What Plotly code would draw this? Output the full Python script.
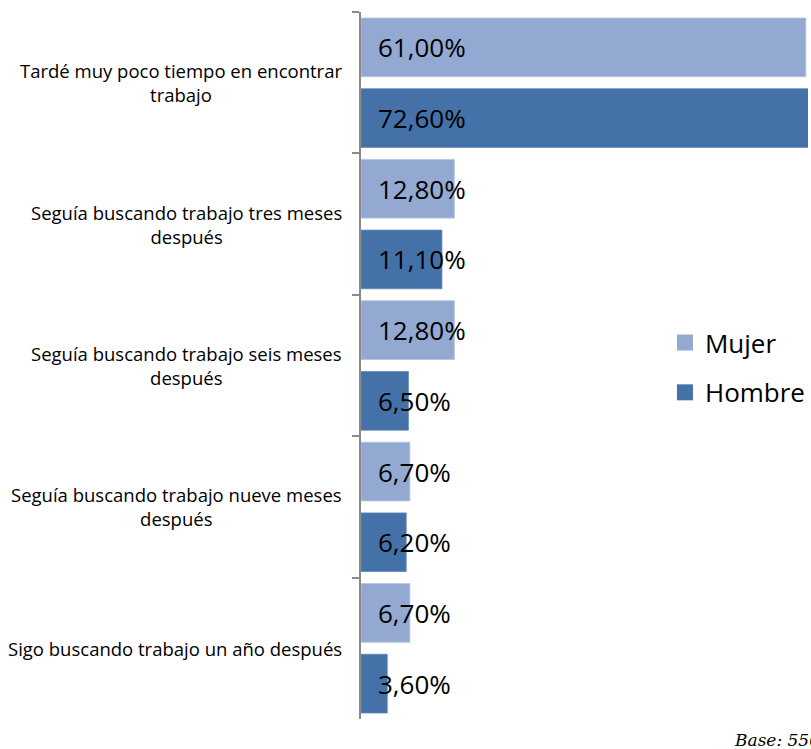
import plotly.graph_objects as go

categories = [
    "Tardé muy poco tiempo en encontrar<br>trabajo",
    "Seguía buscando trabajo tres meses<br>después",
    "Seguía buscando trabajo seis meses<br>después",
    "Seguía buscando trabajo nueve meses<br>después",
    "Sigo buscando trabajo un año después",
]
mujer = [61.0, 12.8, 12.8, 6.7, 6.7]
hombre = [72.6, 11.1, 6.5, 6.2, 3.6]
series_names = ["Mujer", "Hombre"]
series_colors = ["#94A9D2", "#4472A8"]
edge_colors = ["#B3C3E2", "#5F88BA"]
base_note = "Base: 550"

FONT = "Open Sans"

def fmt(v):
    return f"{v:.2f}".replace(".", ",") + "%"

fig = go.Figure()
for name, vals, col, edge in zip(series_names, [mujer, hombre], series_colors, edge_colors):
    fig.add_trace(go.Bar(
        y=categories, x=vals, name=name, orientation="h",
        marker=dict(color=col, line=dict(color=edge, width=0.8)),
        showlegend=False, legendgroup=name, hoverinfo="x+y+name",
    ))
for name, col in zip(series_names, series_colors):
    fig.add_trace(go.Scatter(
        x=[None], y=[None], mode="markers", name=name, legendgroup=name,
        marker=dict(symbol="square", size=16, color=col), showlegend=True,
    ))

# value labels (left aligned near the start of each bar)
slot_shift = 35.35
for vals, ysh in [(mujer, slot_shift), (hombre, -slot_shift)]:
    for cat, v in zip(categories, vals):
        fig.add_annotation(
            x=0, y=cat, xref="x", yref="y", text=fmt(v), showarrow=False,
            xanchor="left", yanchor="middle", xshift=15, yshift=ysh,
            font=dict(family=FONT, size=26, color="#000000"),
        )

# category labels, centered multi-line
for cat in categories:
    fig.add_annotation(
        x=0, y=cat, xref="paper", yref="y", text=cat, showarrow=False,
        xanchor="right", yanchor="middle", align="center", xshift=-17,
        font=dict(family=FONT, size=18.5, color="#000000"),
    )

fig.add_annotation(
    x=(734 - 361) / 450, y=0, xref="paper", yref="paper", text=f"<i>{base_note}</i>",
    showarrow=False, xanchor="left", yanchor="middle", yshift=-21,
    font=dict(family="DejaVu Serif", size=17, color="#000000"),
)

fig.update_layout(
    width=811, height=749,
    margin=dict(l=361, r=0, t=12, b=30),
    paper_bgcolor="white", plot_bgcolor="white",
    barmode="group", bargap=0.0, bargroupgap=0.17,
    font=dict(family=FONT, color="#000000"),
    legend=dict(
        x=0.68, y=0.497, xanchor="left", yanchor="middle",
        font=dict(family=FONT, size=26, color="#000000"),
        bgcolor="rgba(0,0,0,0)", traceorder="grouped", tracegroupgap=13,
        itemsizing="trace",
    ),
    xaxis=dict(range=[0, 61.3], visible=False, fixedrange=True),
    yaxis=dict(
        autorange="reversed", showticklabels=False, tickson="boundaries",
        ticks="outside", ticklen=7, tickcolor="#8A8A8A", tickwidth=1.5,
        showline=True, linecolor="#8A8A8A", linewidth=2, showgrid=False,
        zeroline=False, fixedrange=True,
    ),
)

fig.write_html(
    "out.html",
    config={"displayModeBar": False},
    post_script="document.body.style.margin='0';document.documentElement.style.overflow='hidden';document.body.style.overflow='hidden';",
)
